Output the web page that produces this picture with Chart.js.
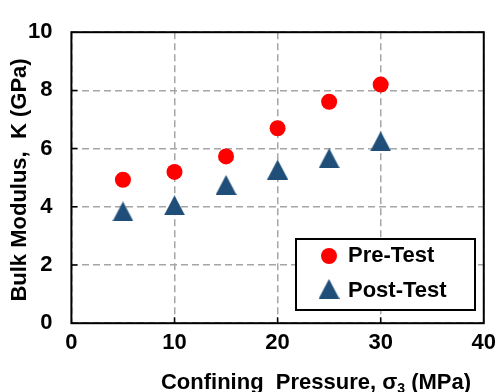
<!DOCTYPE html>
<html>
<head>
<meta charset="utf-8">
<script src="https://cdn.jsdelivr.net/npm/chart.js@4.4.0/dist/chart.umd.min.js"></script>
<style>
html, body { margin: 0; padding: 0; background: #fff; }
</style>
</head>
<body>
<canvas id="bulkChart" width="503" height="392"></canvas>
<script>
const pressures = [5, 10, 15, 20, 25, 30];
const preTest = [4.93, 5.20, 5.73, 6.70, 7.61, 8.20];
const postTest = [3.84, 4.05, 4.75, 5.28, 5.67, 6.25];
const xTicks = [0, 10, 20, 30, 40];
const yTicks = [0, 2, 4, 6, 8, 10];

const FONT = 'Arial, "Liberation Sans", sans-serif';
const RED = '#ff0000';
const BLUE = '#1f4e79';

// Excel-like triangle: centred on its bounding box, not its centroid
function makeTriangle(w, h, color) {
    const c = document.createElement('canvas');
    c.width = w;
    c.height = h;
    const g = c.getContext('2d');
    g.fillStyle = color;
    g.beginPath();
    g.moveTo(w / 2, 0);
    g.lineTo(w, h);
    g.lineTo(0, h);
    g.closePath();
    g.fill();
    return c;
}
const triangle = makeTriangle(21, 20, BLUE);

const framePlugin = {
    id: 'frame',
    afterDraw(chart) {
        const ctx = chart.ctx;
        const a = chart.chartArea;
        const xs = chart.scales.x, ys = chart.scales.y;
        ctx.save();

        // legend box inside the plot
        const lx = 296, ly = 239, lw = 179, lh = 71;
        ctx.fillStyle = '#fff';
        ctx.fillRect(lx, ly, lw, lh);
        ctx.strokeStyle = '#000';
        ctx.lineWidth = 2;
        ctx.strokeRect(lx, ly, lw, lh);

        ctx.fillStyle = RED;
        ctx.beginPath();
        ctx.arc(329, 256, 8, 0, Math.PI * 2);
        ctx.fill();
        ctx.drawImage(triangle, 329 - triangle.width / 2, 289 - triangle.height / 2);

        ctx.fillStyle = '#000';
        ctx.font = 'bold 22px ' + FONT;
        ctx.textAlign = 'left';
        ctx.textBaseline = 'middle';
        ctx.fillText(chart.data.datasets[0].label, 348, 256);
        ctx.fillText(chart.data.datasets[1].label, 348, 291);

        // inward tick marks
        ctx.strokeStyle = '#000';
        ctx.lineWidth = 1.5;
        ctx.beginPath();
        xTicks.slice(1, -1).forEach(v => {
            const px = xs.getPixelForValue(v);
            ctx.moveTo(px, a.bottom);
            ctx.lineTo(px, a.bottom - 6);
        });
        yTicks.slice(1, -1).forEach(v => {
            const py = ys.getPixelForValue(v);
            ctx.moveTo(a.left, py);
            ctx.lineTo(a.left + 6, py);
        });
        ctx.stroke();

        // plot frame
        ctx.lineWidth = 2;
        ctx.strokeRect(a.left, a.top, a.right - a.left, a.bottom - a.top);

        // axis titles
        ctx.fillStyle = '#000';
        ctx.font = 'bold 22px ' + FONT;
        ctx.save();
        ctx.translate(20, 180);
        ctx.rotate(-Math.PI / 2);
        ctx.textAlign = 'center';
        ctx.textBaseline = 'middle';
        ctx.fillText('Bulk Modulus,  K (GPa)', 0, 0);
        ctx.restore();

        const p1 = 'Confining  Pressure, \u03c3', sub = '3', p2 = ' (MPa)';
        ctx.textAlign = 'left';
        ctx.textBaseline = 'alphabetic';
        ctx.font = 'bold 22px ' + FONT;
        const w1 = ctx.measureText(p1).width, w3 = ctx.measureText(p2).width;
        ctx.font = 'bold 14px ' + FONT;
        const w2 = ctx.measureText(sub).width;
        let x = 316 - (w1 + w2 + w3) / 2;
        const base = 389;
        ctx.font = 'bold 22px ' + FONT;
        ctx.fillText(p1, x, base);
        x += w1;
        ctx.font = 'bold 14px ' + FONT;
        ctx.fillText(sub, x, base + 4);
        x += w2;
        ctx.font = 'bold 22px ' + FONT;
        ctx.fillText(p2, x, base);
        ctx.restore();
    }
};

new Chart(document.getElementById('bulkChart').getContext('2d'), {
    type: 'scatter',
    data: {
        datasets: [
            {
                label: 'Pre-Test',
                data: pressures.map((p, i) => ({ x: p, y: preTest[i] })),
                pointStyle: 'circle',
                pointRadius: 8,
                pointBackgroundColor: RED,
                pointBorderWidth: 0,
                borderColor: RED
            },
            {
                label: 'Post-Test',
                data: pressures.map((p, i) => ({ x: p, y: postTest[i] })),
                pointStyle: triangle,
                pointRadius: 10,
                pointBackgroundColor: BLUE,
                pointBorderWidth: 0,
                borderColor: BLUE
            }
        ]
    },
    options: {
        responsive: false,
        animation: false,
        layout: { padding: { top: 24, right: 14.4, left: 0, bottom: 0 } },
        scales: {
            x: {
                type: 'linear',
                min: 0,
                max: 40,
                afterBuildTicks: s => { s.ticks = xTicks.map(v => ({ value: v })); },
                afterFit: s => { s.height = 68.8; },
                ticks: { color: '#000', padding: 7, font: { family: FONT, size: 22, weight: 'bold' } },
                grid: { color: '#a6a6a6', lineWidth: 1.5, drawTicks: false },
                border: { display: false, dash: [7, 4] }
            },
            y: {
                type: 'linear',
                min: 0,
                max: 10,
                afterBuildTicks: s => { s.ticks = yTicks.map(v => ({ value: v })); },
                afterFit: s => { s.width = 71.4; },
                ticks: { color: '#000', padding: 19, font: { family: FONT, size: 22, weight: 'bold' } },
                grid: { color: '#a6a6a6', lineWidth: 1.5, drawTicks: false },
                border: { display: false, dash: [7, 4] }
            }
        },
        plugins: {
            legend: { display: false },
            tooltip: { enabled: false }
        }
    },
    plugins: [framePlugin]
});
</script>
</body>
</html>
